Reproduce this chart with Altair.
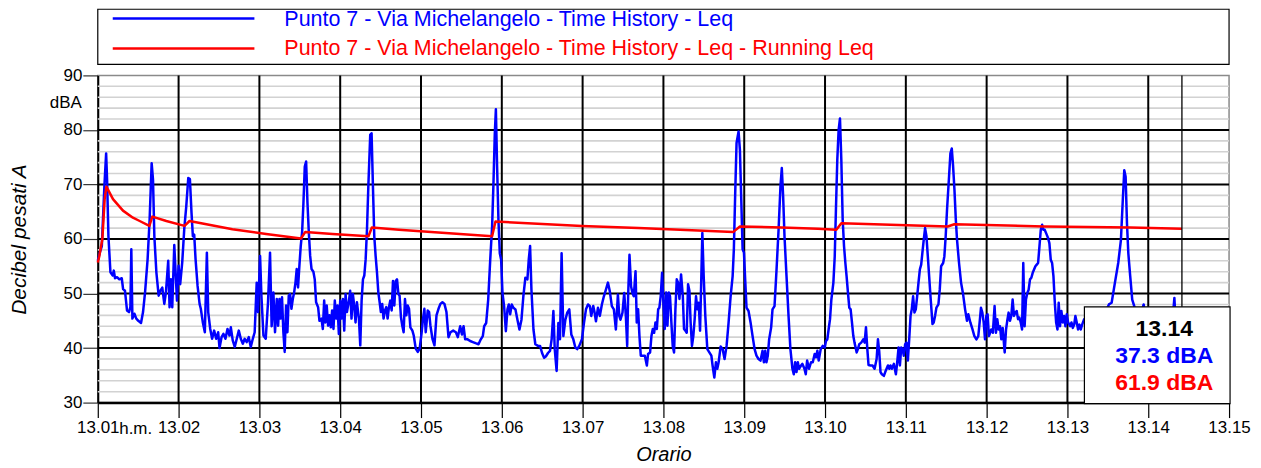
import altair as alt
import pandas as pd

# ---------------- data (seconds after 13.01, dBA) ----------------
leq_t = [0, 1.5, 3.0, 4.9, 6.2, 6.9, 7.9, 9.4, 11.1, 11.9, 12.8, 14.3, 16.0, 17.8, 18.8, 20.2, 21.7, 23.2, 24.2, 24.9,
         25.7, 27.2, 28.6, 30.1, 32.1, 33.6, 35.1, 37.0, 38.5, 40.0, 41.0, 42.0, 43.5, 45.2, 46.4, 47.9, 49.4, 50.6, 52.3, 53.3,
         54.3, 55.3, 56.8, 57.8, 58.8, 60.0, 61.2, 62.7, 64.2, 65.7, 67.2, 68.4, 69.6, 70.6, 71.6, 72.6, 74.1, 75.6, 76.5, 78.0,
         79.5, 81.0, 82.0, 83.5, 84.9, 86.4, 87.9, 89.4, 90.4, 91.9, 93.3, 94.8, 96.3, 97.8, 98.8, 100.2, 101.7, 103.2, 104.7, 106.2,
         107.7, 109.1, 110.6, 112.1, 113.6, 115.1, 116.5, 118.0, 119.0, 120.5, 121.5, 123.0, 124.7, 126.4, 127.9, 129.1,
         130.4, 131.6, 132.9, 133.9, 134.9, 135.8, 136.8, 137.8, 138.8, 139.8, 140.8, 141.8, 142.8, 143.8, 144.8, 145.8, 146.8, 147.7,
         148.7, 149.7, 150.7, 151.7, 152.7, 153.7, 154.7, 155.7, 156.7, 157.7, 158.7, 160.1, 161.1, 162.1, 163.6, 164.6, 166.1, 167.1,
         168.1, 169.0, 170.0, 171.0, 172.0, 173.0, 174.0, 175.0, 176.0, 177.0, 178.0, 179.0, 180.0, 181.0, 182.0, 183.0, 184.0, 185.0,
         186.5, 187.4, 188.4, 189.4, 190.4, 191.4, 192.4, 193.9, 194.9, 195.9, 196.9, 197.9, 198.9, 199.9, 200.9, 202.3, 203.3, 204.3,
         205.3, 206.3, 207.3, 208.3, 209.3, 210.2, 211.2, 212.2, 213.2, 214.2, 215.2, 216.2, 217.2, 218.2, 219.2, 220.2, 221.2, 222.2,
         223.2, 224.1, 225.1, 226.1, 227.1, 228.1, 229.1, 230.1, 231.1, 232.1, 233.6, 234.6, 236.1, 237.6, 239.0, 240.5, 241.5, 242.5,
         243.5, 245.0, 246.0, 247.0, 248.5, 250.0, 251.5, 253.0, 254.4, 255.9, 257.4, 258.9, 260.4, 261.9, 263.9, 265.9, 267.3,
         269.1, 270.4, 271.6, 272.8, 274.6, 276.5, 278.5, 280.5, 282.7, 284.4, 285.9, 286.9, 288.4, 289.9, 291.4, 292.8, 293.8, 294.8,
         295.6, 296.5, 297.5, 298.5, 299.5, 300.5, 301.7, 303.0, 304.2, 305.2, 306.2, 307.4, 308.6, 310.1, 311.6, 313.1, 314.6, 316.0,
         317.5, 319.0, 320.0, 321.0, 322.0, 323.5, 324.9, 326.9, 328.4, 329.9, 331.4, 332.8, 334.3, 335.8, 337.0, 338.3, 339.3, 340.7,
         342.0, 343.2, 344.4, 345.7, 347.2, 348.6, 350.1, 351.6, 353.1, 354.6, 356.0, 357.5, 359.5, 361.0, 362.5, 364.0, 365.4, 366.4,
         367.9, 368.9, 369.9, 371.4, 372.8, 374.3, 375.8, 377.3, 378.8, 380.2, 381.7, 383.2, 384.7, 386.2, 387.2, 388.1, 389.6, 390.9,
         392.1, 393.1, 393.8, 394.8, 396.0, 397.0, 398.0,
         399.3, 400.2, 401.2, 402.2, 403.2, 404.7, 406.2, 407.7, 408.6, 410.1, 411.1, 412.1, 413.1, 414.1, 415.1, 416.1, 417.0, 418.0,
         419.0, 420.0, 421.0, 422.0, 423.0, 424.0, 424.9, 425.9, 426.9, 427.9, 428.9, 429.9, 430.9, 431.9, 433.1, 434.4, 435.3, 436.3,
         437.3, 438.3, 439.3, 440.2, 441.2, 442.2, 443.2, 444.2, 445.2, 446.2, 447.2, 448.1, 448.9, 449.9, 451.1, 452.6, 454.1, 455.6,
         456.5, 457.8, 459.0, 460.0, 461.0, 462.5, 464.0, 465.4, 466.9, 468.4, 469.9, 471.4, 472.3, 473.3, 474.3, 475.8, 476.8, 477.8,
         478.8, 479.8, 480.7, 481.7, 483.2, 484.7, 486.2, 487.7, 489.1, 490.6, 492.1, 493.6, 494.6, 495.6, 496.5, 497.5, 498.5, 500.0,
         501.0, 502.5, 504.0, 505.5, 506.9, 507.9, 508.9, 509.9, 511.4, 512.9, 514.3, 515.8, 516.8, 517.8, 518.8, 519.8, 520.7, 522.2,
         523.2, 524.7, 525.7, 526.7, 528.1, 529.6,
         530.9, 532.3, 533.3, 534.3, 535.3, 536.8, 538.3, 539.8, 540.7, 541.7, 542.7, 543.7, 544.7, 546.2, 547.2, 548.1, 549.1, 550.1,
         551.1, 552.1, 553.1, 554.1, 555.1, 556.0, 557.0, 558.0, 559.0, 560.0, 561.0, 561.9, 563.5, 564.4, 565.4, 566.9, 568.4, 569.4,
         570.4, 571.4, 572.3, 573.8, 575.3, 576.8, 578.3, 579.3, 580.2, 581.2, 582.2, 583.7, 584.7, 585.7, 586.7, 587.7, 588.6, 589.6,
         591.1, 592.6, 593.6, 594.6, 595.6, 596.6, 597.6, 598.5, 599.5, 600.5, 601.5, 602.5, 603.5, 604.4, 605.4, 606.4, 607.4, 608.4,
         609.4, 610.4, 611.4, 612.3, 613.3, 614.3, 615.3, 616.3, 617.3, 618.3, 619.8, 620.7, 621.7, 622.7, 624.2, 625.2, 626.2, 627.7,
         628.6, 629.6, 630.6, 632.1, 633.1, 634.1, 635.1, 636.1, 637.1, 638.0, 639.5, 641.0, 642.5, 644.0, 645.4, 646.4, 647.9, 649.4,
         650.9, 652.4, 653.8, 654.8, 655.8, 656.8, 657.8, 658.8, 659.8, 660.7, 661.7,
         663.4, 664.6, 665.9, 666.9, 667.9, 668.9, 669.9, 670.9, 671.9, 673.4, 674.4, 675.3, 676.3, 677.3, 678.3, 679.3, 680.3, 681.3,
         682.3, 683.3, 684.3, 685.3, 686.3, 687.2, 688.2, 689.2, 690.2, 691.2, 692.2, 693.2, 694.2, 695.2, 696.2, 697.2, 698.2, 699.2,
         700.2, 701.2, 702.1, 703.1, 704.6, 705.6, 706.6, 707.6, 708.6, 709.6, 710.6, 711.6, 712.6, 713.5, 714.5, 715.5, 716.5, 717.5,
         718.5, 719.5, 720.5, 722.0, 723.0, 724.0, 725.0, 725.9, 726.9, 727.9, 728.9, 729.9, 730.9, 732.4,
         734.0, 736.0, 738.0, 740.0, 742.0, 744.0, 746.0, 748.0, 750.8, 752.8, 755.2, 757.7, 759.7, 761.2, 762.2, 763.2, 764.2, 765.2,
         766.6, 768.1, 769.6, 771.0, 773.0, 776.6, 778.0, 780.0, 783.0, 786.0, 789.0, 792.0, 795.0, 798.0, 799.4, 800.5, 802.0, 804.0,
         805.0]

leq_db = [56.0, 57.5, 58.7, 69.7, 75.7, 70.9, 60.5, 53.9, 53.3, 54.2, 52.8, 53.0, 52.6, 52.8, 50.8, 50.5, 46.9, 46.6, 47.5, 58.1,
          45.4, 46.3, 45.4, 45.0, 44.6, 46.6, 50.2, 56.3, 63.6, 73.9, 70.9, 60.5, 53.9, 49.6, 50.5, 51.1, 48.1, 50.2, 56.0, 47.5,
          52.6, 47.5, 58.9, 53.9, 48.7, 55.1, 51.7, 55.7, 61.8, 66.0, 71.2, 71.0, 64.8, 60.5, 60.8, 56.3, 51.4, 48.1, 47.2, 44.7,
          42.9, 57.5, 46.6, 43.5, 41.7, 43.2, 41.7, 42.9, 40.0, 42.0, 42.6, 41.7, 43.5, 42.3, 43.8, 41.4, 40.2, 41.7, 43.2, 41.7,
          40.8, 41.7, 41.1, 42.0, 40.2, 41.7, 42.9, 52.0, 46.6, 56.9, 49.6, 42.3, 41.7, 48.4, 57.5, 44.0,
          50.2, 42.9, 49.0, 44.1, 49.0, 45.4, 49.3, 42.9, 39.3, 47.8, 42.9, 49.6, 49.9, 47.2, 49.0, 50.2, 52.0, 54.5,
          51.1, 55.1, 58.7, 61.2, 66.6, 73.3, 74.2, 66.6, 61.2, 56.9, 54.5, 54.0, 52.6, 48.4, 47.5, 45.0, 45.4, 43.5,
          48.7, 44.7, 47.8, 44.1, 46.0, 43.8, 46.9, 43.5, 48.7, 45.4, 47.8, 42.6, 48.7, 45.4, 49.0, 43.2, 49.9, 46.6,
          48.7, 50.5, 45.4, 49.9, 47.8, 44.7, 48.4, 45.4, 40.5, 48.7, 52.6, 53.3, 56.3, 61.8, 69.7, 79.1, 79.4, 69.7,
          60.5, 56.9, 53.9, 50.2, 48.4, 46.6, 48.1, 45.4, 46.9, 47.5, 45.4, 47.5, 48.7, 46.9, 52.3, 47.8, 52.3, 52.6,
          49.9, 49.6, 45.7, 44.1, 42.9, 49.0, 46.0, 47.8, 47.2, 43.8, 43.2, 42.3, 39.9, 39.3, 39.9, 42.9, 45.4, 47.2,
          42.9, 46.9, 46.6, 44.1, 41.7, 40.5, 46.0, 47.2, 48.1, 48.4, 48.1, 46.6, 42.0, 42.9, 43.2, 42.9, 42.0,
          44.0, 42.5, 44.0, 41.6, 41.6, 41.3, 41.1, 40.9, 40.7, 41.6, 42.2, 44.0, 44.6, 48.9, 56.2, 62.3, 70.2, 79.4,
          83.8, 73.3, 63.5, 57.4, 56.2, 50.1, 47.7, 43.1, 47.1, 48.0, 46.2, 48.0, 47.4, 47.1, 45.2, 43.4, 45.2, 49.5,
          52.9, 52.6, 56.2, 58.7, 50.7, 43.4, 40.7, 40.4, 40.4, 39.1, 38.2, 38.5, 39.1, 39.5, 41.6, 46.8, 39.8, 35.8,
          44.6, 41.6, 57.4, 42.2, 45.2, 46.5, 47.1, 42.5, 41.6, 40.1, 39.8, 40.4, 41.6, 44.6, 47.1, 48.0, 47.7, 45.9,
          47.7, 46.5, 44.9, 47.4, 45.9, 48.0, 49.5, 50.7, 52.0, 50.4, 47.7, 47.1, 43.4, 49.8, 45.9, 45.2, 46.5, 50.1,
          45.9, 40.4, 49.5, 57.1, 51.3, 50.1, 49.5,
          54.1, 44.7, 47.1, 42.2, 38.6, 38.6, 38.6, 36.8, 38.9, 39.2, 42.2, 43.5, 42.8, 44.7, 43.5, 47.1, 47.4, 49.5,
          53.8, 48.3, 43.5, 50.2, 44.1, 50.2, 49.5, 44.7, 40.4, 39.2, 47.1, 52.6, 52.0, 49.0, 53.5, 49.5, 43.5, 43.2,
          42.8, 51.7, 50.5, 44.7, 40.4, 42.2, 45.3, 49.5, 47.1, 48.3, 43.2, 52.6, 61.1, 53.2, 45.9, 39.8, 39.2, 38.6,
          36.8, 34.6, 37.4, 36.2, 37.4, 40.3, 39.8, 38.0, 40.4, 44.7, 49.5, 53.2, 58.1, 68.4, 77.6, 79.7, 76.3, 67.2,
          58.1, 57.5, 52.6, 47.4, 46.8, 44.7, 42.2, 39.8, 38.6, 38.0, 37.7, 39.5, 37.4, 39.5, 37.4, 38.6, 41.6, 43.8,
          47.1, 47.7, 54.4, 61.7, 69.6, 73.0, 67.8, 60.5, 53.2, 45.9, 39.8, 36.2, 35.2, 37.4, 35.6, 37.4, 36.2, 36.8,
          37.1, 36.2, 35.2, 37.7, 36.2, 37.4,
          37.4, 38.9, 38.3, 39.5, 37.7, 39.8, 40.4, 40.1, 41.3, 41.6, 43.5, 45.3, 48.9, 52.0, 56.8, 65.4, 74.5, 80.0,
          82.1, 74.5, 63.6, 58.7, 55.6, 53.2, 50.2, 47.4, 47.1, 44.7, 42.2, 41.0, 39.2, 39.8, 40.7, 41.0, 41.6, 41.0,
          43.8, 39.8, 36.9, 36.8, 36.8, 36.2, 38.0, 41.6, 39.5, 35.6, 35.2, 34.9, 35.6, 36.2, 36.8, 36.2, 36.8, 36.2,
          37.1, 35.2, 37.4, 40.1, 36.8, 40.1, 39.8, 38.6, 40.7, 41.0, 37.7, 41.6, 45.9, 47.1, 49.5, 46.5, 47.1, 49.5,
          52.0, 54.4, 55.3, 57.5, 59.9, 62.0, 60.5, 56.9, 53.2, 49.5, 44.4, 44.7, 45.9, 47.4, 48.0, 50.8, 55.0, 55.6,
          56.8, 60.5, 65.4, 71.5, 75.7, 76.6, 73.3, 69.0, 63.6, 59.9, 55.6, 52.0, 49.9, 47.1, 45.0, 46.2, 44.7, 43.5,
          42.2, 41.6, 42.2, 44.7, 47.4, 46.5, 44.7, 41.6, 45.9, 46.2, 42.2,
          43.4, 42.8, 47.7, 42.8, 45.3, 43.4, 44.0, 41.6, 43.7, 39.2, 43.4, 45.0, 46.5, 45.0, 45.9, 48.9, 45.9, 46.5,
          46.8, 45.3, 45.6, 44.7, 43.4, 55.6, 44.0, 48.9, 50.1, 50.7, 52.6, 52.9, 53.8, 54.4, 55.0, 55.3, 55.6, 58.6,
          61.7, 62.6, 61.7, 61.7, 60.8, 60.2, 59.2, 56.2, 55.6, 53.2, 48.4, 44.7, 43.4, 48.3, 44.0, 46.8, 44.7, 45.9,
          44.0, 46.2, 44.7, 44.0, 44.7, 43.7, 44.3, 45.9, 44.7, 43.4, 44.3, 43.4, 44.3, 45.3,
          44.5, 45.5, 44.8, 45.8, 44.6, 45.2, 46.0, 46.5, 48.0, 48.3, 51.9, 55.6, 59.8, 67.7, 72.6, 71.4, 62.9, 57.4,
          53.2, 48.9, 47.7, 46.0, 45.0, 48.0, 45.0, 44.0, 44.5, 45.0, 44.0, 45.0, 44.5, 45.0, 49.2, 44.0, 43.0, 40.0,
          37.3]

run_t = [0, 1.0, 3.4, 5.1, 6.4, 11.3, 18.7, 26.1, 31.1, 38.3, 40.5, 50.9, 64.4, 68.1, 100.0, 125.0, 150.9, 154.1,
         174.3, 201.0, 203.5, 223.7, 292.8, 295.3, 359.5, 401.5, 471.9, 476.8, 507.6, 534.8, 548.4, 552.1, 631.1, 636.0,
         702.7, 766.7, 805.0]
run_db = [55.7, 56.7, 60.0, 67.3, 69.6, 67.3, 65.2, 63.9, 63.3, 62.4, 64.1, 63.3, 62.4, 63.3, 61.8, 60.9, 60.1, 61.3,
          60.9, 60.5, 62.1, 61.7, 60.5, 63.2, 62.4, 62.0, 61.3, 62.3, 62.1, 61.9, 61.7, 62.9, 62.3, 62.7,
          62.3, 62.1, 61.9]

series_names = ["Punto 7 - Via Michelangelo - Time History - Leq",
                "Punto 7 - Via Michelangelo - Time History - Leq - Running Leq"]
series_colors = ["#0000ff", "#ff0000"]

minor_grid = [v for v in range(32, 90, 2) if v % 10 != 0]
major_ticks = [30, 40, 50, 60, 70, 80, 90]
major_grid = [40, 50, 60, 70, 80]
minute_ticks = list(range(0, 841, 60))
minute_grid = list(range(60, 840, 60))

cursor_t = 805
cursor_texts = ["13.14", "37.3 dBA", "61.9 dBA"]
cursor_colors = ["#000000", "#0000ff", "#ff0000"]

FONT = "Liberation Sans"
W, H = 1134, 328

df_leq = pd.DataFrame({"t": leq_t, "db": leq_db})
df_run = pd.DataFrame({"t": run_t, "db": run_db})
df_one = pd.DataFrame({"k": [0]})

xscale = alt.Scale(domain=[0, 840], nice=False, zero=False)
yscale = alt.Scale(domain=[30, 90], nice=False, zero=False)

x_axis = alt.Axis(
    values=minute_ticks,
    labelExpr="'13.' + (datum.value < 540 ? '0' : '') + format(datum.value / 60 + 1, 'd')",
    grid=False,
    tickSize=15, tickColor="black", tickWidth=1.2,
    domainColor="black", domainWidth=2.5,
    labelFont=FONT, labelFontSize=17, labelColor="black", labelPadding=2,
    labelOverlap=False, labelFlush=False, labelBound=False,
    title="Orario", titleFont=FONT, titleFontSize=20, titleFontStyle="italic",
    titleFontWeight="normal", titleColor="black",
    titleX=W / 2, titleY=52, titleBaseline="middle", titleAlign="center",
)
y_axis = alt.Axis(
    values=major_ticks,
    grid=False,
    tickSize=15, tickColor="#333333", tickWidth=1.2,
    domainColor="black", domainWidth=2,
    labelFont=FONT, labelFontSize=17, labelColor="black", labelPadding=1,
    title="Decibel pesati A", titleFont=FONT, titleFontSize=21, titleFontStyle="italic",
    titleFontWeight="normal", titleColor="black",
    titleX=-78, titleY=H / 2, titleAngle=270, titleBaseline="middle", titleAlign="center",
)

minor = alt.Chart(pd.DataFrame({"db": minor_grid})).mark_rule(
    color="#d2d2d2", strokeWidth=1.6
).encode(y=alt.Y("db:Q", scale=yscale, axis=y_axis))

hgrid = alt.Chart(pd.DataFrame({"db": major_grid})).mark_rule(
    color="black", strokeWidth=2
).encode(y=alt.Y("db:Q", scale=yscale))

vgrid = alt.Chart(pd.DataFrame({"t": minute_grid})).mark_rule(
    color="black", strokeWidth=2
).encode(x=alt.X("t:Q", scale=xscale, axis=x_axis))

leq_line = alt.Chart(df_leq).mark_line(color=series_colors[0], strokeWidth=2.5, strokeJoin="round").encode(
    x=alt.X("t:Q", scale=xscale),
    y=alt.Y("db:Q", scale=yscale),
)
run_line = alt.Chart(df_run).mark_line(color=series_colors[1], strokeWidth=2.5, strokeJoin="round").encode(
    x=alt.X("t:Q", scale=xscale),
    y=alt.Y("db:Q", scale=yscale),
)

cursor = alt.Chart(df_one).mark_rule(color="black", strokeWidth=1.3).encode(
    x=alt.datum(cursor_t, type="quantitative", scale=xscale)
)

# info box at the cursor
info_box = alt.Chart(df_one).mark_rect(fill="white", stroke="black", strokeWidth=1.2).encode(
    x=alt.value(989), x2=alt.value(1135), y=alt.value(232), y2=alt.value(329)
)
info_layers = []
for i, (txt, col) in enumerate(zip(cursor_texts, cursor_colors)):
    info_layers.append(
        alt.Chart(df_one).mark_text(font=FONT, fontSize=23, fontWeight="bold", color=col,
                                    align="center", baseline="middle").encode(
            x=alt.value(1069), y=alt.value(254 + 27 * i), text=alt.value(txt))
    )

# legend box above the plot
legend_box = alt.Chart(df_one).mark_rect(fill="white", stroke="black", strokeWidth=1.2).encode(
    x=alt.value(0), x2=alt.value(W), y=alt.value(-66.3), y2=alt.value(-11)
)
legend_layers = []
for i, (name, col) in enumerate(zip(series_names, series_colors)):
    ly = -57 + 30 * i
    legend_layers.append(
        alt.Chart(df_one).mark_rule(color=col, strokeWidth=2.5).encode(
            x=alt.value(15), x2=alt.value(157), y=alt.value(ly))
    )
    legend_layers.append(
        alt.Chart(df_one).mark_text(font=FONT, fontSize=21.5, color=col, align="left",
                                    baseline="middle").encode(
            x=alt.value(187), y=alt.value(ly + 1), text=alt.value(name))
    )

unit_y = alt.Chart(df_one).mark_text(font=FONT, fontSize=17, color="black", align="right",
                                     baseline="middle").encode(
    x=alt.value(-16), y=alt.value(28), text=alt.value("dBA"))
unit_x = alt.Chart(df_one).mark_text(font=FONT, fontSize=17, color="black", align="center",
                                     baseline="middle").encode(
    x=alt.value(38), y=alt.value(354), text=alt.value("h.m."))

chart = alt.layer(
    minor, hgrid, vgrid, leq_line, run_line, cursor, info_box, *info_layers,
    legend_box, *legend_layers, unit_y, unit_x
).properties(
    width=W, height=H,
    padding={"left": 90, "top": 67, "right": 24, "bottom": 63},
    autosize=alt.AutoSizeParams(type="none"),
    background="white",
).configure_view(stroke="#8a8a8a", strokeWidth=1.5)

chart.save("out.html", embed_options={"renderer": "svg", "actions": False})
